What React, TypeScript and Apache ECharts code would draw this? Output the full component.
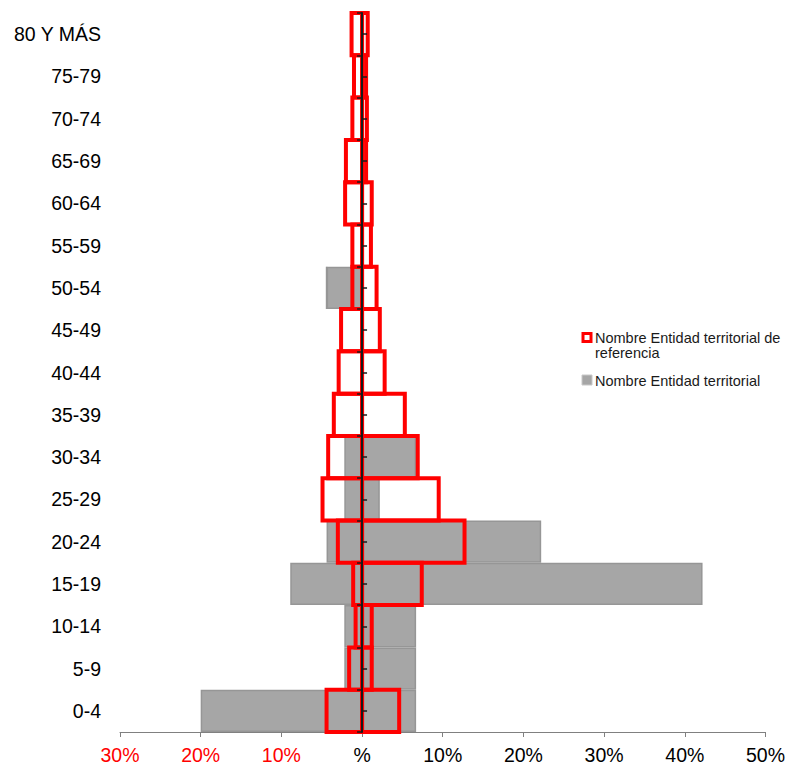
import React, { useEffect, useRef } from "react";
import * as echarts from "echarts";

// Age groups, bottom to top
const categories = [
  "0-4", "5-9", "10-14", "15-19", "20-24", "25-29", "30-34", "35-39", "40-44",
  "45-49", "50-54", "55-59", "60-64", "65-69", "70-74", "75-79", "80 Y MÁS",
];

// Territorial entity (grey bars): men on the left (negative), women on the right
const entityMen = [-20.0, -2.2, -2.2, -8.9, -4.4, -2.2, -2.2, 0, 0, 0, -4.4, 0, 0, 0, 0, 0, 0];
const entityWomen = [6.7, 6.7, 6.7, 42.2, 22.2, 2.2, 6.7, 0, 0, 0, 0, 0, 0, 0, 0, 0, 0];

// Reference entity (red outlined boxes)
const refMen = [-4.4, -1.6, -0.8, -1.1, -3.0, -4.9, -4.2, -3.5, -2.9, -2.6, -1.2, -1.2, -2.1, -2.0, -1.2, -1.0, -1.3];
const refWomen = [4.6, 1.2, 1.2, 7.4, 12.7, 9.5, 6.9, 5.3, 2.8, 2.2, 1.8, 1.1, 1.2, 0.5, 0.6, 0.5, 0.7];

// Percent axis
const axisMin = -30;
const axisMax = 50;
const axisStep = 10;

const seriesRefName = "Nombre Entidad territorial de referencia";
const seriesEntityName = "Nombre Entidad territorial";

const FONT = "'Liberation Sans', Arial, sans-serif";

// Outlined box from 0 to the value, spanning the whole category band,
// with the stroke centred on the box edges.
const outlineBox = (_params: any, api: any) => {
  const v = api.value(0);
  const cat = api.value(1);
  const p0 = api.coord([0, cat]);
  const p1 = api.coord([v, cat]);
  const h = api.size([0, 1])[1];
  return {
    type: "rect",
    shape: {
      x: Math.min(p0[0], p1[0]),
      y: p0[1] - h / 2,
      width: Math.abs(p1[0] - p0[0]),
      height: h,
    },
    style: { fill: "none", stroke: "#ff0000", lineWidth: 4, lineJoin: "miter" },
  };
};

export default function App() {
  const ref = useRef<HTMLDivElement>(null);

  useEffect(() => {
    if (!ref.current) return;
    const chart = echarts.init(ref.current, undefined, { renderer: "svg" });

    const greyStyle = {
      color: "#a6a6a6",
      borderColor: "#969696",
      borderWidth: 1.5,
    };

    chart.setOption({
      animation: false,
      backgroundColor: "#ffffff",
      grid: { left: 120, right: 20, top: 13, bottom: 36, containLabel: false },
      xAxis: {
        type: "value",
        min: axisMin,
        max: axisMax,
        interval: axisStep,
        position: "bottom",
        splitLine: { show: false },
        axisLine: { show: true, onZero: false, lineStyle: { color: "#808080", width: 1 } },
        axisTick: { show: true, length: 5, lineStyle: { color: "#808080" } },
        axisLabel: {
          fontSize: 19.5,
          fontFamily: FONT,
          margin: 13,
          formatter: (v: number) => (v === 0 ? "%" : Math.abs(v) + "%"),
          color: (v: any) => (Number(v) < 0 ? "#ff0000" : "#000000"),
        },
      },
      yAxis: [
        {
          type: "category",
          data: categories,
          position: "left",
          axisLine: { show: false, onZero: false },
          axisTick: { show: false },
          axisLabel: { fontSize: 19.5, fontFamily: FONT, color: "#000000", margin: 19 },
        },
        {
          type: "category",
          data: categories,
          position: "left",
          z: 10,
          axisLine: { show: true, onZero: true, onZeroAxisIndex: 0, lineStyle: { color: "#1a1a1a", width: 2 } },
          axisTick: { show: true, length: 5, inside: false, lineStyle: { color: "#1a1a1a", width: 1.5 } },
          axisLabel: { show: false },
        },
        {
          type: "category",
          data: categories,
          position: "left",
          z: 10,
          axisLine: { show: false, onZero: true, onZeroAxisIndex: 0 },
          axisTick: { show: true, length: 5, inside: true, alignWithLabel: true, lineStyle: { color: "#1a1a1a", width: 1.5 } },
          axisLabel: { show: false },
        },
      ],
      series: [
        {
          name: seriesEntityName,
          type: "bar",
          stack: "entity",
          yAxisIndex: 0,
          z: 2,
          data: entityMen,
          barCategoryGap: "0%",
          barGap: "-100%",
          itemStyle: greyStyle,
        },
        {
          name: seriesEntityName,
          type: "bar",
          stack: "entity",
          yAxisIndex: 0,
          z: 2,
          data: entityWomen,
          barCategoryGap: "0%",
          barGap: "-100%",
          itemStyle: greyStyle,
        },
        {
          name: seriesRefName,
          type: "custom",
          yAxisIndex: 0,
          z: 5,
          encode: { x: 0, y: 1 },
          data: refMen.map((v, i) => [v, i]),
          renderItem: outlineBox,
        },
        {
          name: seriesRefName,
          type: "custom",
          yAxisIndex: 0,
          z: 5,
          encode: { x: 0, y: 1 },
          data: refWomen.map((v, i) => [v, i]),
          renderItem: outlineBox,
        },
      ],
      graphic: [
        {
          type: "rect",
          shape: { x: 583, y: 333.5, width: 8, height: 8 },
          style: { fill: "#ffffff", stroke: "#ff0000", lineWidth: 3 },
        },
        {
          type: "text",
          x: 595,
          y: 331,
          style: {
            text: "Nombre Entidad territorial de\nreferencia",
            fontSize: 14.5,
            lineHeight: 14.5,
            fontFamily: FONT,
            fill: "#1a1a1a",
            verticalAlign: "top",
          },
        },
        {
          type: "rect",
          shape: { x: 582, y: 375, width: 10, height: 10 },
          style: { fill: "#a6a6a6", stroke: "#c8c8c8", lineWidth: 1 },
        },
        {
          type: "text",
          x: 595,
          y: 380.5,
          style: {
            text: seriesEntityName,
            fontSize: 14.5,
            fontFamily: FONT,
            fill: "#1a1a1a",
            verticalAlign: "middle",
          },
        },
      ],
    });

    return () => chart.dispose();
  }, []);

  return (
    <div
      ref={ref}
      style={{ position: "absolute", left: 0, top: 0, width: 788, height: 768 }}
    />
  );
}
